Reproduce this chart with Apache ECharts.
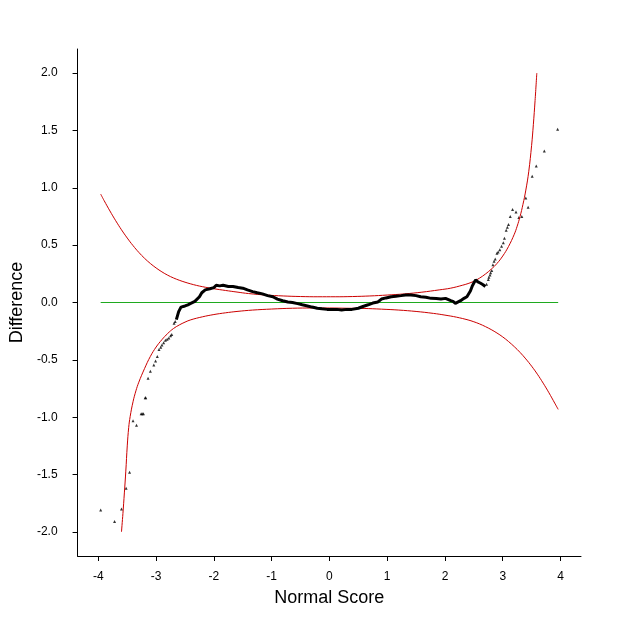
<!DOCTYPE html>
<html>
<head>
<meta charset="utf-8">
<script src="https://cdn.jsdelivr.net/npm/echarts@6/dist/echarts.min.js"></script>
<style>html,body{margin:0;padding:0;background:#fff}#c{width:618px;height:618px}</style>
</head>
<body>
<div id="c"></div>
<script>
// Tick labels
var xTicks = [-4, -3, -2, -1, 0, 1, 2, 3, 4];
var yTicks = [-2, -1.5, -1, -0.5, 0, 0.5, 1, 1.5, 2];

// Reference line (zero)
var zeroLine = [[-3.96, 0], [3.96, 0]];

// Upper confidence band
var upperBand = [
  [-3.96,0.945],[-3.9,0.888],[-3.8,0.798],[-3.7,0.713],[-3.6,0.634],[-3.5,0.562],[-3.4,0.496],
  [-3.3,0.437],[-3.2,0.385],[-3.1,0.34],[-3.0,0.301],[-2.9,0.267],[-2.8,0.238],[-2.7,0.214],
  [-2.6,0.194],[-2.5,0.177],[-2.4,0.162],[-2.3,0.149],[-2.2,0.138],[-2.0,0.12],[-1.8,0.105],
  [-1.6,0.091],[-1.4,0.078],[-1.1,0.065],[-0.8,0.057],[-0.5,0.052],[-0.2,0.05],[0.1,0.05],
  [0.4,0.052],[0.7,0.057],[1.0,0.065],[1.3,0.075],[1.6,0.09],[1.9,0.11],[2.1,0.125],
  [2.3,0.15],[2.4,0.165],[2.5,0.185],[2.6,0.213],[2.7,0.248],[2.8,0.29],[2.9,0.34],[3.0,0.405],
  [3.1,0.488],[3.2,0.595],[3.25,0.665],[3.3,0.75],[3.35,0.855],[3.4,0.98],[3.45,1.14],[3.5,1.37],
  [3.53,1.55],[3.56,1.76],[3.59,2.0]
];

// Lower confidence band
var lowerBand = [
  [-3.60,-2.0],[-3.575,-1.84],[-3.55,-1.66],[-3.525,-1.47],[-3.5,-1.25],[-3.475,-1.09],
  [-3.45,-0.995],[-3.4,-0.865],[-3.35,-0.77],[-3.3,-0.695],[-3.2,-0.575],[-3.1,-0.47],
  [-3.0,-0.388],[-2.9,-0.324],[-2.8,-0.27],[-2.7,-0.227],[-2.6,-0.196],[-2.5,-0.171],
  [-2.4,-0.151],[-2.2,-0.125],[-2.0,-0.105],[-1.8,-0.09],[-1.6,-0.078],[-1.33,-0.066],
  [-1.0,-0.057],[-0.64,-0.05],[-0.3,-0.048],[0.0,-0.048],[0.3,-0.05],[0.6,-0.052],
  [0.9,-0.058],[1.2,-0.066],[1.5,-0.078],[1.8,-0.095],[2.0,-0.11],[2.2,-0.128],[2.4,-0.152],
  [2.5,-0.168],[2.6,-0.187],[2.7,-0.21],[2.8,-0.236],[2.9,-0.266],[3.0,-0.3],[3.1,-0.34],
  [3.2,-0.385],[3.3,-0.435],[3.4,-0.492],[3.5,-0.555],[3.6,-0.625],[3.7,-0.703],[3.8,-0.787],
  [3.9,-0.877],[3.96,-0.932]
];

// Worm: dense central part
var wormDense = [
  [-2.65,-0.15],[-2.61,-0.08],[-2.57,-0.04],[-2.50,-0.03],[-2.45,-0.02],[-2.41,-0.01],[-2.33,0.01],
  [-2.25,0.05],[-2.21,0.085],[-2.15,0.11],[-2.07,0.12],[-2.0,0.13],[-1.96,0.15],[-1.90,0.145],
  [-1.84,0.15],[-1.75,0.14],[-1.67,0.14],[-1.58,0.13],[-1.50,0.125],[-1.42,0.11],[-1.33,0.095],
  [-1.25,0.085],[-1.16,0.075],[-1.07,0.06],[-0.98,0.05],[-0.9,0.03],[-0.81,0.015],[-0.72,0.005],
  [-0.64,0.0],[-0.55,-0.01],[-0.47,-0.02],[-0.38,-0.03],[-0.30,-0.04],[-0.21,-0.05],[-0.13,-0.055],
  [-0.04,-0.06],[0.04,-0.06],[0.13,-0.06],[0.21,-0.065],[0.30,-0.06],[0.39,-0.06],[0.50,-0.05],
  [0.58,-0.035],[0.67,-0.02],[0.75,-0.005],[0.84,0.005],[0.90,0.03],[0.98,0.04],[1.07,0.05],
  [1.15,0.055],[1.24,0.06],[1.32,0.065],[1.41,0.065],[1.50,0.06],[1.58,0.05],[1.67,0.045],
  [1.76,0.036],[1.85,0.035],[1.93,0.03],[2.01,0.036],[2.06,0.025],[2.10,0.016],[2.14,0.01],
  [2.18,-0.007],[2.21,-0.005],[2.27,0.016],[2.33,0.036],[2.38,0.05],[2.41,0.065],[2.44,0.1],
  [2.47,0.14],[2.50,0.17],[2.53,0.196],[2.57,0.18],[2.61,0.17],[2.66,0.155],[2.70,0.14]
];

// Worm: sparse tails
var wormTails = [
  [-3.96,-1.81],[-3.72,-1.91],[-3.60,-1.80],[-3.52,-1.62],[-3.46,-1.48],[-3.40,-1.03],
  [-3.34,-1.07],[-3.26,-0.97],[-3.22,-0.97],[-3.24,-0.97],[-3.19,-0.83],[-3.18,-0.83],
  [-3.14,-0.66],[-3.10,-0.60],[-3.04,-0.545],[-3.01,-0.51],[-2.98,-0.47],[-2.95,-0.41],
  [-2.92,-0.39],[-2.90,-0.37],[-2.87,-0.35],[-2.84,-0.33],[-2.81,-0.32],[-2.78,-0.31],
  [-2.75,-0.29],[-2.73,-0.28],[-2.69,-0.18],[-2.67,-0.165],
  [2.72,0.16],[2.75,0.20],[2.76,0.22],[2.78,0.24],[2.79,0.26],[2.81,0.28],[2.83,0.33],
  [2.85,0.36],[2.87,0.38],[2.90,0.43],[2.92,0.44],[2.95,0.46],[2.98,0.49],[3.01,0.52],
  [3.03,0.56],[3.06,0.63],[3.08,0.655],[3.10,0.68],[3.13,0.75],[3.17,0.81],[3.23,0.79],
  [3.28,0.74],[3.33,0.75],[3.40,0.91],[3.44,0.83],[3.51,1.10],[3.58,1.19],[3.72,1.32],[3.95,1.51]
];

var font = '"Liberation Sans", Arial, sans-serif';
var chart = echarts.init(document.getElementById('c'));
chart.setOption({
  animation: false,
  backgroundColor: '#fff',
  grid: { left: 73, right: 37, top: 49, bottom: 62 },
  xAxis: {
    type: 'value', min: -4.36, max: 4.355,
    name: 'Normal Score', nameLocation: 'middle', nameGap: 33,
    nameTextStyle: { fontFamily: font, fontSize: 18, color: '#000' },
    axisLine: { show: true, onZero: false, lineStyle: { color: '#000', width: 1 } },
    axisTick: { show: true, length: 5, customValues: xTicks, lineStyle: { color: '#000' } },
    axisLabel: { customValues: xTicks, margin: 15, fontFamily: font, fontSize: 12, color: '#000' },
    splitLine: { show: false }
  },
  yAxis: {
    type: 'value', min: -2.21, max: 2.21,
    name: 'Difference', nameLocation: 'middle', nameGap: 50,
    nameTextStyle: { fontFamily: font, fontSize: 18, color: '#000' },
    axisLine: { show: true, onZero: false, lineStyle: { color: '#000', width: 1 } },
    axisTick: { show: true, length: 5, customValues: yTicks, lineStyle: { color: '#000' } },
    axisLabel: { customValues: yTicks, margin: 20, fontFamily: font, fontSize: 12, color: '#000',
      formatter: function (v) { return v.toFixed(1); } },
    splitLine: { show: false }
  },
  series: [
    { type: 'line', data: zeroLine, showSymbol: false, lineStyle: { color: '#1faa1f', width: 1 }, silent: true },
    { type: 'line', data: upperBand, showSymbol: false, smooth: 0.4, lineStyle: { color: '#cc0000', width: 1 }, silent: true },
    { type: 'line', data: lowerBand, showSymbol: false, smooth: 0.4, lineStyle: { color: '#cc0000', width: 1 }, silent: true },
    { type: 'line', data: wormDense, showSymbol: false, lineStyle: { color: '#000', width: 3 }, silent: true },
    { type: 'scatter', data: wormTails, symbol: 'triangle', symbolSize: 3, itemStyle: { color: '#000' }, silent: true }
  ]
});
</script>
</body>
</html>
